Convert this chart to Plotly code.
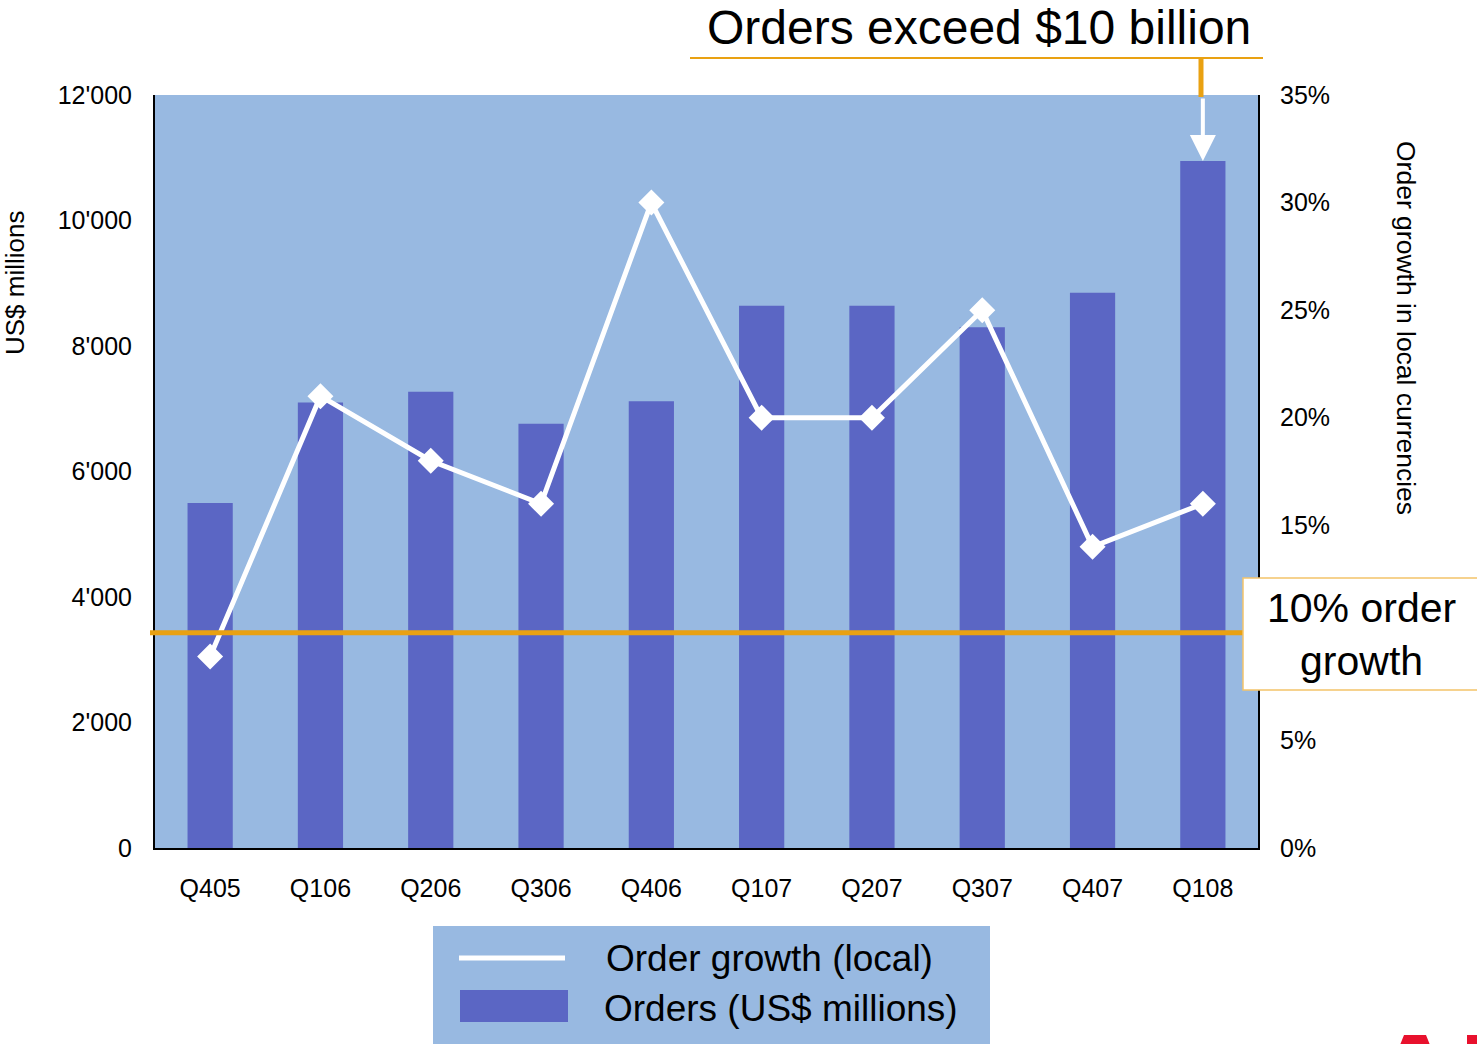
import plotly.graph_objects as go

quarters = ["Q405", "Q106", "Q206", "Q306", "Q406", "Q107", "Q207", "Q307", "Q407", "Q108"]
orders_musd = [5500, 7100, 7270, 6760, 7120, 8640, 8640, 8300, 8850, 10950]
growth_pct = [8.9, 21, 18, 16, 30, 20, 20, 25, 14, 16]
threshold_pct = 10

left_ticks = [0, 2000, 4000, 6000, 8000, 10000, 12000]
right_ticks = [0, 5, 15, 20, 25, 30, 35]  # 10% is hidden behind the callout box
right_tick_labels = [f"{v}%" for v in right_ticks]

PLOT_BG = "#98B9E1"
BAR = "#5B66C4"
ORANGE = "#E9A112"
FONT = "Liberation Sans, Arial, sans-serif"

OFF = 0  # page body margin removed via post_script
SW, SH = 1477, 1044
W, H = SW - OFF, SH - OFF
# plot area in screenshot pixels
PL, PR, PT, PB = 155, 1258, 95, 848
L, R, T, B = PL - OFF, SW - PR, PT - OFF, SH - PB
PW = PR - PL
PH = PB - PT


def px(x):
    return (x - PL) / PW


def py(y):
    return (PB - y) / PH


fig = go.Figure()
fig.add_trace(go.Bar(
    x=quarters, y=orders_musd, marker=dict(color=BAR, line=dict(width=0)),
    width=0.41, name="Orders (US$ millions)", showlegend=False, yaxis="y",
))
fig.add_trace(go.Scatter(
    x=quarters, y=growth_pct, mode="lines+markers",
    line=dict(color="white", width=5),
    marker=dict(symbol="diamond", size=20, color="white"),
    name="Order growth (local)", showlegend=False, yaxis="y2",
))

shapes = [
    # 10% line
    dict(type="line", xref="paper", yref="y2", x0=px(150), x1=px(1243),
         y0=threshold_pct, y1=threshold_pct, line=dict(color=ORANGE, width=5), layer="above"),
    # box for 10% label
    dict(type="rect", xref="paper", yref="paper", x0=px(1243), x1=px(1490),
         y0=py(690), y1=py(578), fillcolor="white",
         line=dict(color="#F3C46A", width=1.5), layer="above"),
    # title underline
    dict(type="line", xref="paper", yref="paper", x0=px(690), x1=px(1263),
         y0=py(58), y1=py(58), line=dict(color=ORANGE, width=2)),
    dict(type="line", xref="paper", yref="paper", x0=px(1201), x1=px(1201),
         y0=py(58), y1=py(97), line=dict(color=ORANGE, width=5)),
    # legend box
    dict(type="rect", xref="paper", yref="paper", x0=px(433), x1=px(990),
         y0=py(1060), y1=py(926), fillcolor=PLOT_BG, line=dict(width=0)),
    dict(type="line", xref="paper", yref="paper", x0=px(459), x1=px(565),
         y0=py(958), y1=py(958), line=dict(color="white", width=5)),
    dict(type="rect", xref="paper", yref="paper", x0=px(460), x1=px(568),
         y0=py(1022), y1=py(990), fillcolor=BAR, line=dict(width=0)),
    # logo fragment
    dict(type="path", xref="paper", yref="paper",
         path=f"M {px(1398)},{py(1050)} L {px(1404)},{py(1035)} L {px(1426)},{py(1035)} L {px(1432)},{py(1050)} Z",
         fillcolor="#E8112D", line=dict(width=0)),
    dict(type="rect", xref="paper", yref="paper", x0=px(1467), x1=px(1490),
         y0=py(1050), y1=py(1035), fillcolor="#E8112D", line=dict(width=0)),
]


def txt(text, x, y, size, angle=0, xanchor="center"):
    return dict(text=text, xref="paper", yref="paper", x=px(x), y=py(y),
                xanchor=xanchor, yanchor="middle", textangle=angle, showarrow=False,
                font=dict(size=size, color="black", family=FONT))


annotations = [
    txt("Orders exceed $10 billion", 979, 27, 48),
    txt("10% order<br>growth", 1361, 634, 41),
    txt("US$ millions", 15, 282, 26, angle=-90),
    txt("Order growth in local currencies", 1406, 328, 26.5, angle=90),
    txt("Order growth (local)", 604, 958, 37, xanchor="left"),
    txt("Orders (US$ millions)", 602, 1008, 37, xanchor="left"),
    # arrow to Q108 bar
    dict(text="", x=quarters[-1], y=orders_musd[-1], xref="x", yref="y",
         showarrow=True, ax=0, ay=-64, arrowcolor="white", arrowwidth=4,
         arrowhead=2, arrowsize=1.3, standoff=0),
]

fig.update_layout(
    width=W, height=H,
    margin=dict(l=L, r=R, t=T, b=B, pad=0),
    paper_bgcolor="white", plot_bgcolor=PLOT_BG,
    separators=".'",
    font=dict(family=FONT, size=25, color="black"),
    showlegend=False,
    xaxis=dict(
        type="category", range=[-0.5, len(quarters) - 0.5],
        showline=True, linecolor="black", linewidth=2,
        showgrid=False, ticks="", ticklabelstandoff=17,
        tickfont=dict(size=25), zeroline=False,
    ),
    yaxis=dict(
        range=[0, 12000], tickvals=left_ticks, tickformat=",d",
        showline=True, linecolor="black", linewidth=2,
        showgrid=False, zeroline=False, ticks="", ticklabelstandoff=16,
        tickfont=dict(size=25),
    ),
    yaxis2=dict(
        range=[0, 35], tickvals=right_ticks, ticktext=right_tick_labels,
        overlaying="y", side="right",
        showline=True, linecolor="black", linewidth=2,
        showgrid=False, zeroline=False, ticks="", ticklabelstandoff=15,
        tickfont=dict(size=25),
    ),
    shapes=shapes,
    annotations=annotations,
)

fig.write_html("out.html", config={"displayModeBar": False},
               post_script="document.body.style.margin='0px';")
